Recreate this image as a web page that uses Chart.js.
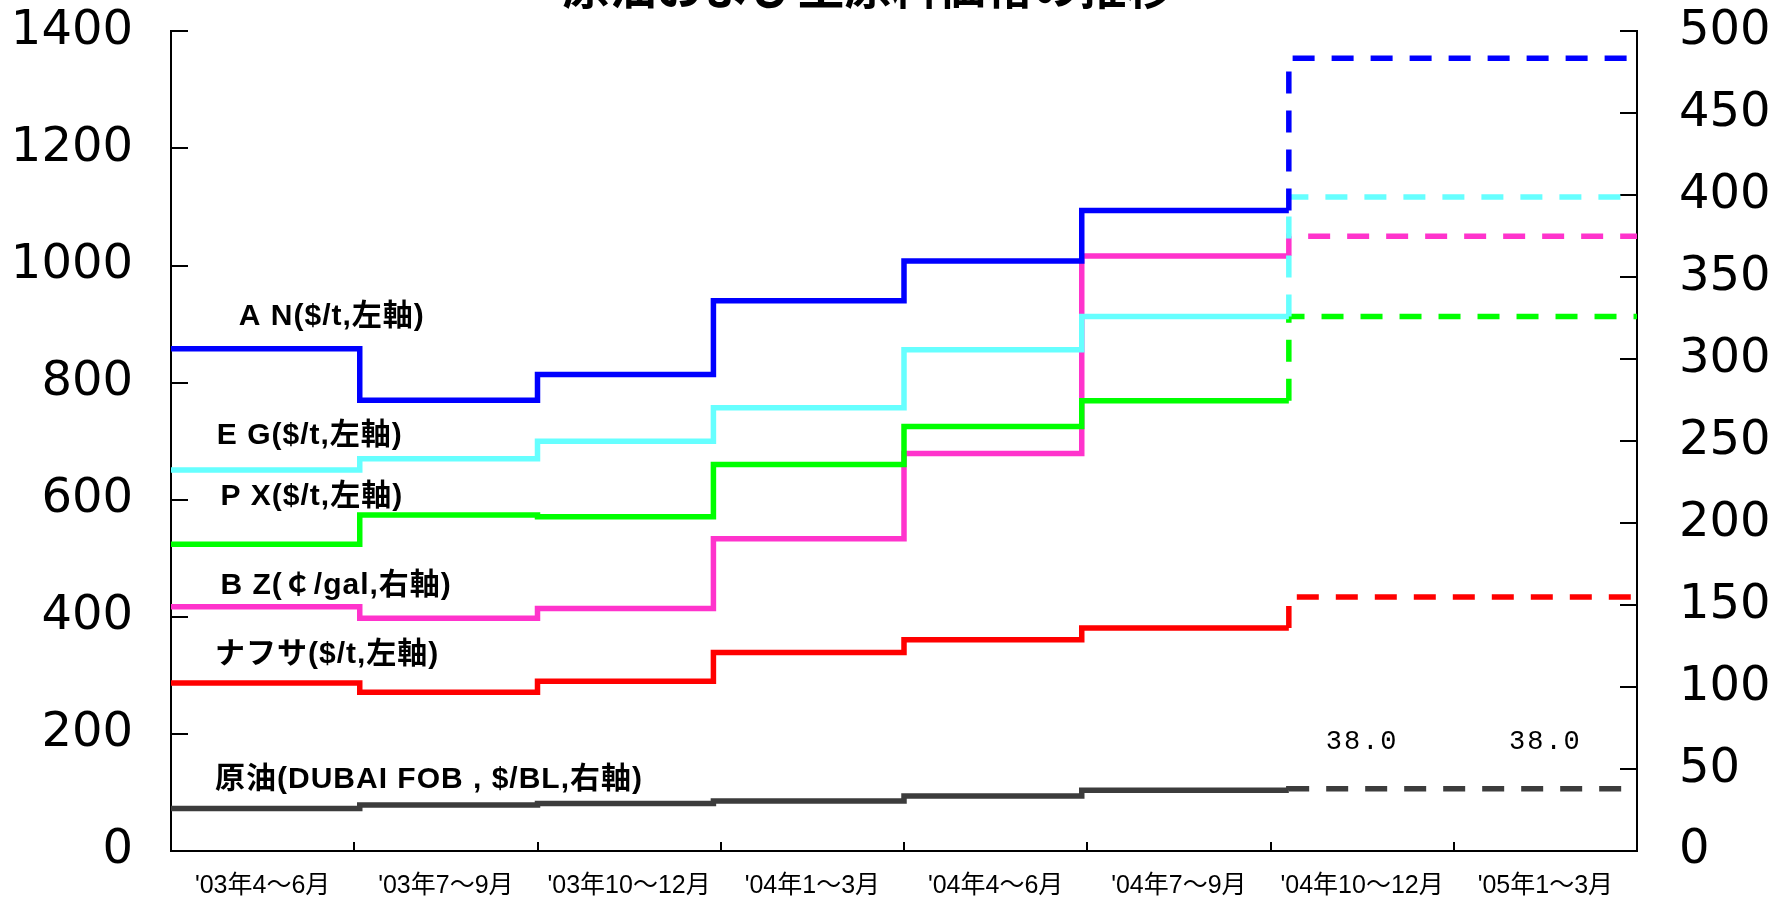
<!DOCTYPE html>
<html lang="ja">
<head>
<meta charset="utf-8">
<title>原油および主原料価格の推移</title>
<script src="https://cdn.jsdelivr.net/npm/chart.js@4.4.1/dist/chart.umd.min.js"></script>
<style>
  html, body { margin: 0; padding: 0; background: #fff; overflow: hidden; }
  canvas { display: block; }
</style>
</head>
<body>
<canvas id="chart" width="1770" height="899"></canvas>
<script>
// Quarterly periods (last two quarters are outlook values, drawn dashed)
const categories = ["'03年4～6月", "'03年7～9月", "'03年10～12月", "'04年1～3月",
                    "'04年4～6月", "'04年7～9月", "'04年10～12月", "'05年1～3月"];
const forecastFrom = 6;

// Positions (in quarters) where each price level starts, as plotted
const stepEdges = [0, 1.03, 2.0, 2.96, 4.0, 4.97, 6.1, 7, 8];

// Left axis: $/t
const anPrice      = [858, 770, 814, 940, 1008, 1094, 1354, 1354];
const egPrice      = [651, 670, 700, 757, 856, 913, 1117, 1117];
const pxPrice      = [524, 574, 571, 660, 725, 769, 913, 913];
const naphthaPrice = [287, 271, 290, 339, 361, 381, 434, 434];
// Right axis: BZ in ¢/gal, crude (Dubai FOB) in $/BL
const bzPrice      = [149, 142, 148, 190.5, 242.5, 363, 375, 375];
const crudePrice   = [26, 28, 29, 30.5, 33.5, 37, 38.0, 38.0];

const leftTicks  = [0, 200, 400, 600, 800, 1000, 1200, 1400];
const rightTicks = [0, 50, 100, 150, 200, 250, 300, 350, 400, 450, 500];

const titleText = '原油および主原料価格の推移';

// Series captions, anchored in axis units (x: quarter index, y: left-axis value)
const captions = [
  { text: 'A N($/t,左軸)',               x: 0.37, y: 912 },
  { text: 'E G($/t,左軸)',               x: 0.25, y: 709 },
  { text: 'P X($/t,左軸)',               x: 0.27, y: 605 },
  { text: 'B Z(￠/gal,右軸)',             x: 0.27, y: 453 },
  { text: 'ナフサ($/t,左軸)',             x: 0.24, y: 336 },
  { text: '原油(DUBAI FOB , $/BL,右軸)',  x: 0.24, y: 121 }
];

// Each quarter's value is held from its start edge to the next one
function toSteps(values) {
  return [{ x: stepEdges[0], y: values[0] }]
    .concat(values.map((y, i) => ({ x: stepEdges[i + 1], y })));
}

function stepLine(label, values, color, axis) {
  return {
    label,
    data: toSteps(values),
    yAxisID: axis,
    xAxisID: 'x',
    borderColor: color,
    backgroundColor: color,
    borderWidth: 5.5,
    pointRadius: 0,
    pointHoverRadius: 0,
    stepped: 'after',
    fill: false,
    borderCapStyle: 'butt',
    borderJoinStyle: 'miter',
    segment: {
      borderDash: ctx => ctx.p1DataIndex > forecastFrom ? [22, 17] : undefined
    }
  };
}

const tickFont = { family: '"DejaVu Sans", "Liberation Sans", sans-serif', size: 48 };
const catFont  = { family: '"Liberation Sans Narrow", "Liberation Sans", "Noto Sans CJK JP", sans-serif', size: 25 };

// Keep the plot frame exactly where the axes are sized to be
function noOverhang(s) {
  s.paddingTop = 0; s.paddingBottom = 0; s.paddingLeft = 0; s.paddingRight = 0;
}

const overlayPlugin = {
  id: 'overlayText',
  afterDatasetsDraw(chart) {
    const { ctx, scales } = chart;
    const xs = scales.x, yl = scales.y, yr = scales.y2;
    ctx.save();

    // Title (sits at the very top edge of the sheet)
    ctx.fillStyle = '#000';
    ctx.font = 'bold 47px "Noto Sans CJK JP", sans-serif';
    ctx.textAlign = 'center';
    ctx.textBaseline = 'alphabetic';
    ctx.fillText(titleText, 868, 4);

    // Series captions
    ctx.font = 'bold 30px "Liberation Sans Narrow", "Liberation Sans", "Noto Sans CJK JP", sans-serif';
    ctx.textAlign = 'left';
    ctx.textBaseline = 'middle';
    if ('letterSpacing' in ctx) ctx.letterSpacing = '1px';
    captions.forEach(c => {
      ctx.fillText(c.text, xs.getPixelForValue(c.x), yl.getPixelForValue(c.y));
    });

    // Crude outlook values
    ctx.font = '27px "Liberation Mono", "DejaVu Sans Mono", monospace';
    if ('letterSpacing' in ctx) ctx.letterSpacing = '2px';
    ctx.textAlign = 'center';
    for (let i = forecastFrom; i < crudePrice.length; i++) {
      const v = crudePrice[i];
      ctx.fillText(v.toFixed(1), xs.getPixelForValue(i + 0.5), yr.getPixelForValue(v) - 47);
    }
    ctx.restore();
  }
};

new Chart(document.getElementById('chart'), {
  type: 'line',
  data: {
    datasets: [
      stepLine('AN', anPrice, '#0000ff', 'y'),
      stepLine('EG', egPrice, '#66ffff', 'y'),
      stepLine('PX', pxPrice, '#00ff00', 'y'),
      stepLine('BZ', bzPrice, '#ff33cc', 'y2'),
      stepLine('ナフサ', naphthaPrice, '#ff0000', 'y'),
      stepLine('原油', crudePrice, '#3c3c3c', 'y2')
    ]
  },
  options: {
    responsive: false,
    animation: false,
    events: [],
    layout: { padding: { top: 31.4, left: 0, right: 0, bottom: 0 } },
    plugins: {
      legend: { display: false },
      title: { display: false },
      tooltip: { enabled: false }
    },
    scales: {
      x: {
        type: 'linear',
        position: 'bottom',
        min: 0,
        max: categories.length,
        ticks: { display: false, stepSize: 1 },
        grid: { drawOnChartArea: false, color: '#000', lineWidth: 2, tickLength: -9 },
        border: { color: '#000', width: 2 },
        afterFit: s => { s.height = 0; noOverhang(s); }
      },
      xc: {
        type: 'category',
        position: 'bottom',
        labels: categories,
        offset: true,
        weight: 1,
        grid: { display: false },
        border: { display: false },
        ticks: { autoSkip: false, maxRotation: 0, minRotation: 0, color: '#000', font: catFont, padding: 12 },
        afterFit: s => { s.height = 48; noOverhang(s); }
      },
      y: {
        position: 'left',
        min: leftTicks[0],
        max: leftTicks[leftTicks.length - 1],
        afterBuildTicks: s => { s.ticks = leftTicks.map(v => ({ value: v })); },
        ticks: { color: '#000', font: tickFont, padding: 55, callback: v => String(v) },
        grid: { drawOnChartArea: false, color: '#000', lineWidth: 2, tickLength: -17 },
        border: { color: '#000', width: 2 },
        afterFit: s => { s.width = 171; noOverhang(s); }
      },
      y2: {
        position: 'right',
        min: rightTicks[0],
        max: rightTicks[rightTicks.length - 1],
        afterBuildTicks: s => { s.ticks = rightTicks.map(v => ({ value: v })); },
        ticks: { color: '#000', font: tickFont, padding: 59, callback: v => String(v) },
        grid: { drawOnChartArea: false, color: '#000', lineWidth: 2, tickLength: -17 },
        border: { color: '#000', width: 2 },
        afterFit: s => { s.width = 133; noOverhang(s); }
      }
    }
  },
  plugins: [overlayPlugin]
});
</script>
</body>
</html>
